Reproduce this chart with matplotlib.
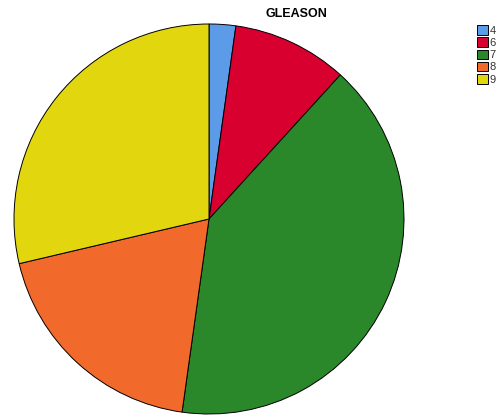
import matplotlib.pyplot as plt

plt.rcParams['font.family'] = ['Liberation Sans', 'DejaVu Sans']

labels = ['4', '6', '7', '8', '9']
counts = [3, 13, 55, 26, 39]
colors = ['#5B9BE8', '#D7002F', '#2A882A', '#F26A2B', '#E2D70F']

fig = plt.figure(figsize=(4.98, 4.17), dpi=100)
ax = fig.add_axes([209/498 - 195/498, 1 - (219 + 195)/417, 390/498, 390/417])
wedges, _ = ax.pie(counts, colors=colors, startangle=90, counterclock=False,
                   wedgeprops=dict(edgecolor='black', linewidth=0.7))
ax.set_xlim(-1, 1)
ax.set_ylim(-1, 1)
ax.set_aspect('equal')
ax.axis('off')

fig.text(296/498, 1 - 14/417, 'GLEASON', ha='center', va='center',
         fontsize=9, fontweight='bold')

fig.legend(wedges, labels, loc='upper left', bbox_to_anchor=(477/498, 1 - 25/417),
           frameon=False, fontsize=8, handlelength=0.95, handleheight=0.95,
           handletextpad=0.2, labelspacing=0.15, borderaxespad=0, borderpad=0,
           labelcolor='#333333')

fig.savefig('out.png', dpi=100)
